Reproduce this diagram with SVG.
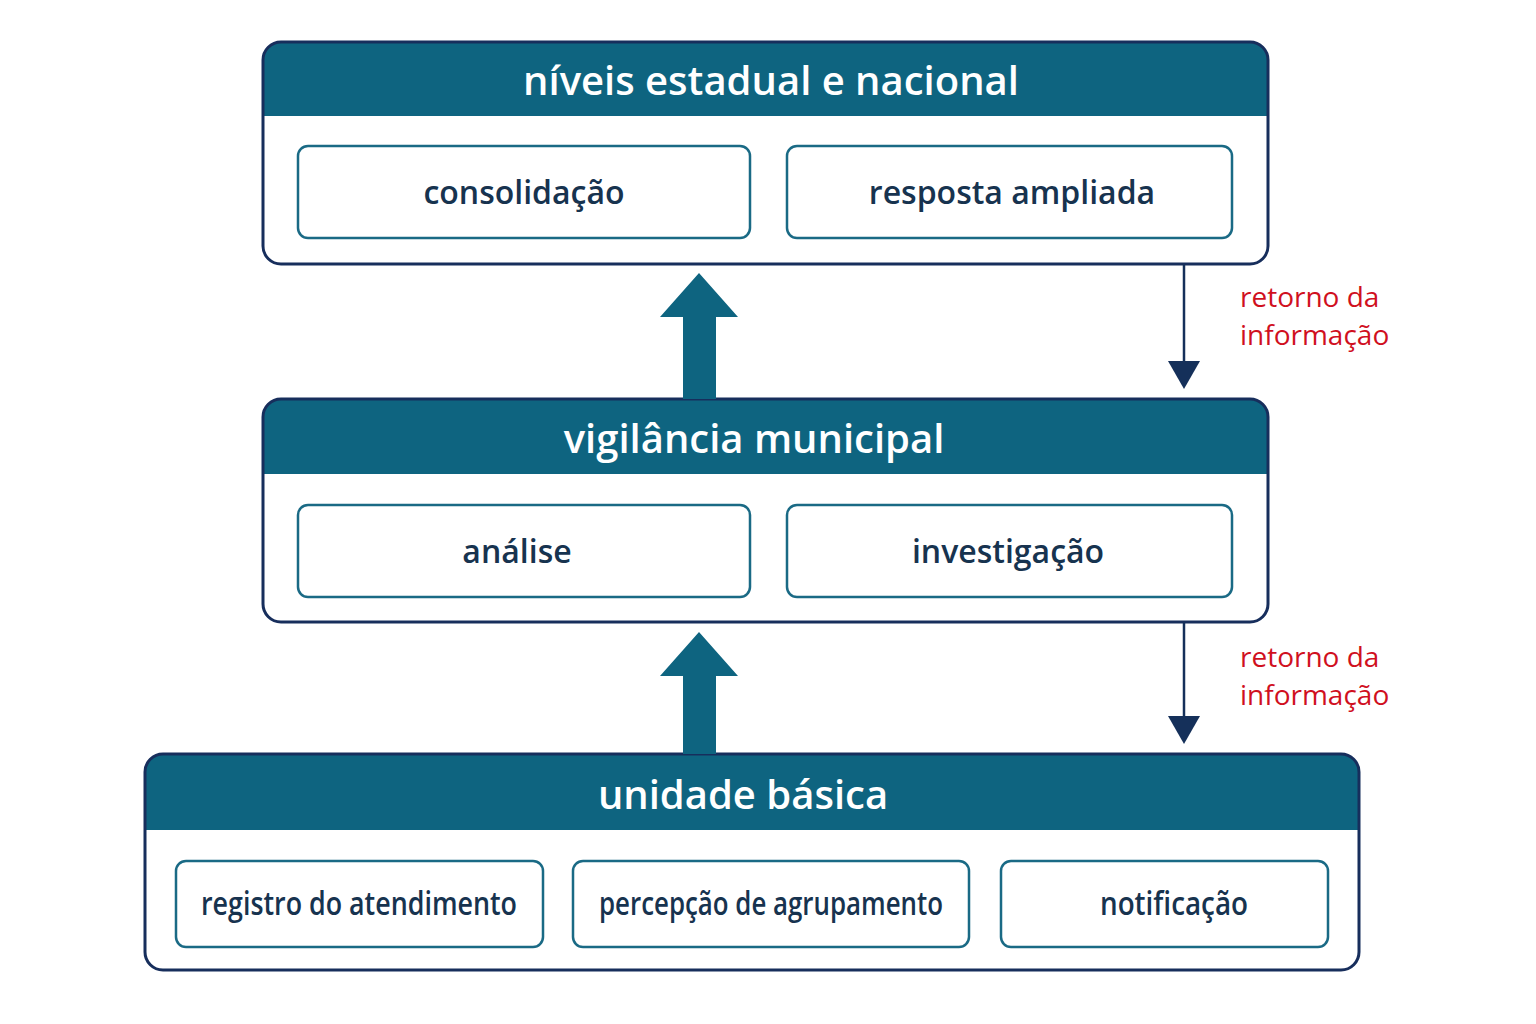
<svg xmlns="http://www.w3.org/2000/svg" width="1536" height="1024" viewBox="0 0 1536 1024">
<style>
.outer{fill:#fff;stroke:#172e5c;stroke-width:3}
.hdr{fill:#0e6480}
.title{fill:#fff;font-family:"Open Sans","Noto Sans",sans-serif;font-weight:600;font-size:40px;text-anchor:middle}
.inner{fill:#fff;stroke:#1a6a85;stroke-width:2.5}
.lbl{fill:#17334f;font-family:"Open Sans","Noto Sans",sans-serif;font-weight:600;font-size:32px;text-anchor:middle}
.red{fill:#d0101e;font-family:"Open Sans","Noto Sans",sans-serif;font-size:28px}
.blk{fill:#0e6480}
.thin{stroke:#15305a;stroke-width:2.5;fill:none}
</style>
<defs>
<marker id="ah" markerWidth="12" markerHeight="10" refX="11" refY="5" orient="auto" markerUnits="userSpaceOnUse" viewBox="0 0 12 10"><path d="M0,0L12,5L0,10z" fill="#15305a"/></marker>
</defs>
<rect width="1536" height="1024" fill="#fff"/>
<g id="top">
<path class="hdr" d="M281,42H1250a18,18 0 0 1 18,18V116H263V60a18,18 0 0 1 18-18z"/>
<rect class="outer" x="263" y="42" width="1005" height="222" rx="18" fill="none" style="fill:none"/>
<text class="title" x="771" y="95">níveis estadual e nacional</text>
<rect class="inner" x="298" y="146" width="452" height="92" rx="10"/>
<text class="lbl" x="524" y="204">consolidação</text>
<rect class="inner" x="787" y="146" width="445" height="92" rx="10"/>
<text class="lbl" x="1012" y="204">resposta ampliada</text>
</g>
<g id="mid">
<path class="hdr" d="M281,399H1250a18,18 0 0 1 18,18V474H263V417a18,18 0 0 1 18-18z"/>
<rect class="outer" x="263" y="399" width="1005" height="223" rx="18" style="fill:none"/>
<text class="title" x="754" y="453">vigilância municipal</text>
<rect class="inner" x="298" y="505" width="452" height="92" rx="10"/>
<text class="lbl" x="517" y="563">análise</text>
<rect class="inner" x="787" y="505" width="445" height="92" rx="10"/>
<text class="lbl" x="1008" y="563">investigação</text>
</g>
<g id="bot">
<path class="hdr" d="M163,754H1341a18,18 0 0 1 18,18V830H145V772a18,18 0 0 1 18-18z"/>
<rect class="outer" x="145" y="754" width="1214" height="216" rx="18" style="fill:none"/>
<text class="title" x="743" y="809">unidade básica</text>
<rect class="inner" x="176" y="861" width="367" height="86" rx="10"/>
<text class="lbl" x="359" y="915" textLength="316" lengthAdjust="spacingAndGlyphs">registro do atendimento</text>
<rect class="inner" x="573" y="861" width="396" height="86" rx="10"/>
<text class="lbl" x="771" y="915" textLength="344" lengthAdjust="spacingAndGlyphs">percepção de agrupamento</text>
<rect class="inner" x="1001" y="861" width="327" height="86" rx="10"/>
<text class="lbl" x="1174" y="915" textLength="148" lengthAdjust="spacingAndGlyphs">notificação</text>
</g>
<g id="connectors">
<path class="blk" d="M683,399V317H660L699,273L738,317H716V399z"/>
<path class="blk" d="M683,754V676H660L699,632L738,676H716V754z"/>
<line class="thin" x1="1184" y1="264" x2="1184" y2="365"/>
<path d="M1168,361H1200L1184,389z" fill="#15305a"/>
<line class="thin" x1="1184" y1="622" x2="1184" y2="720"/>
<path d="M1168,716H1200L1184,744z" fill="#15305a"/>
<text class="red" x="1240" y="307">retorno da</text>
<text class="red" x="1240" y="345">informação</text>
<text class="red" x="1240" y="667">retorno da</text>
<text class="red" x="1240" y="705">informação</text>
</g>
</svg>
